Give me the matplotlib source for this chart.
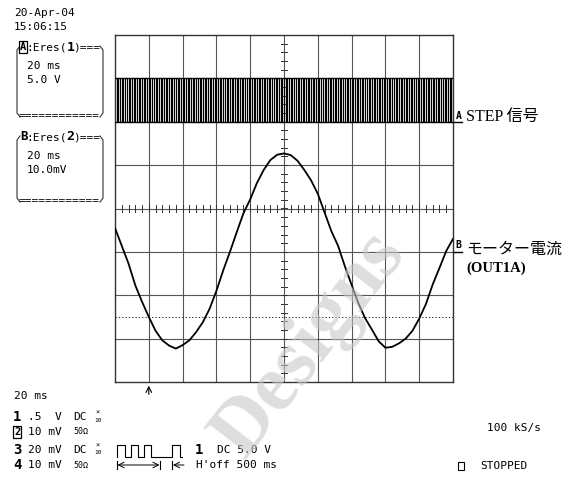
import numpy as np
import matplotlib
matplotlib.use('Agg')
import matplotlib.pyplot as plt

# ---- 數據 (讀自示波器畫面) ----
time_ms = list(range(0, 204, 4))  # 取樣時間 ms
motor_mv = [5.5, 1.4, -2.7, -7.7, -11.5, -15.0, -18.2, -20.4, -21.6, -22.3,
            -21.5, -20.4, -18.5, -16.2, -13.1, -9.0, -4.3, 0.0, 4.5, 8.9,
            12.1, 15.9, 18.9, 21.2, 22.4, 22.7, 22.3, 21.0, 18.9, 16.5,
            13.4, 9.1, 4.8, 1.4, -3.3, -7.6, -11.8, -15.3, -17.9, -20.6,
            -22.1, -21.9, -21.1, -20.0, -18.2, -15.4, -12.0, -7.5, -3.7, 0.2, 3.0]
step_period_ms = 2.0   # STEP 脈波週期
step_high_v = 5.0
ms_per_div = 20.0
a_v_per_div = 5.0
b_mv_per_div = 10.0
a_ground_div = 2.0
b_ground_div = -1.0
trig_level_div = -2.5
trig_pos_div = 1.0

ch_rows = [('1', '.5  V', 'DC', True), ('2', '10 mV', '50Ω', False),
           ('3', '20 mV', 'DC', True), ('4', '10 mV', '50Ω', False)]

W, H = 581, 478
mono = 'DejaVu Sans Mono'

fig = plt.figure(figsize=(W / 100, H / 100), dpi=100)
fig.patch.set_facecolor('white')
ax = fig.add_axes([115 / W, 1 - 382 / H, 338 / W, 347 / H])
ax.set_xlim(0, 10)
ax.set_ylim(-4, 4)
ax.set_xticks([])
ax.set_yticks([])
for s in ax.spines.values():
    s.set_color('#333333')
    s.set_linewidth(1.0)

# 格線
for i in range(1, 10):
    ax.axvline(i, color='#555555', lw=0.8, zorder=1)
for j in range(-3, 4):
    ax.axhline(j, color='#555555', lw=0.8, zorder=1)
# 中心刻度
for k in np.arange(-4, 4.01, 0.2):
    ax.plot([4.92, 5.08], [k, k], color='#333333', lw=0.7, zorder=1)
for k in np.arange(0, 10.01, 0.2):
    ax.plot([k, k], [-0.07, 0.07], color='#333333', lw=0.7, zorder=1)
# 觸發準位
ax.axhline(trig_level_div, color='black', lw=0.6, ls=(0, (1.5, 2.5)), zorder=1)

# STEP 信號
edges = np.arange(0, 200 + step_period_ms, step_period_ms / 2)
lev = np.where(np.arange(len(edges)) % 2 == 0, step_high_v, 0.0)
ax.step(edges / ms_per_div, lev / a_v_per_div + a_ground_div, where='post',
        color='black', lw=0.85, zorder=3)
ax.plot([0, 10], [a_ground_div, a_ground_div], color='black', lw=0.9, zorder=3)
ax.plot([0, 10], [a_ground_div + 1, a_ground_div + 1], color='black', lw=0.9, zorder=3)

# 馬達電流
ax.plot(np.array(time_ms) / ms_per_div, np.array(motor_mv) / b_mv_per_div + b_ground_div,
        color='black', lw=1.3, zorder=4)

# 觸發位置箭頭
ax.annotate('', xy=(trig_pos_div, -4.02), xytext=(trig_pos_div, -4.35),
            xycoords='data', arrowprops=dict(arrowstyle='->', lw=0.8, color='black'),
            annotation_clip=False)

# ---- 疊加層 (像素座標) ----
ov = fig.add_axes([0, 0, 1, 1])
ov.set_xlim(0, W)
ov.set_ylim(H, 0)
ov.axis('off')


def t(x, y, s, **kw):
    kw.setdefault('fontsize', 8)
    kw.setdefault('family', mono)
    ov.text(x, y, s, va='center', ha=kw.pop('ha', 'left'), **kw)


t(14, 13, '20-Apr-04')
t(14, 27, '15:06:15')

box = dict(boxstyle='square,pad=0.08', fc='white', ec='black', lw=0.9)
for (y0, y1, lab, num, l2, l3) in [(47, 116, 'A', '1', '20 ms', '5.0 V'),
                                   (137, 201, 'B', '2', '20 ms', '10.0mV')]:
    if lab == 'A':
        t(20, y0, lab, weight='bold', bbox=box, fontsize=7.5)
    else:
        t(20, y0, lab, weight='bold', fontsize=9)
    t(26.5, y0, ':Eres(')
    t(66.5, y0, num, weight='bold', fontsize=9.5)
    t(73.5, y0, ')===')
    t(27, y0 + 19, l2)
    t(27, y0 + 33, l3)
    t(19, y1, '============')
    for xe, d in [(17, 1), (103, -1)]:
        ov.plot([xe + 3 * d, xe, xe, xe + 3 * d], [y0 - 1, y0 + 3, y1 - 3, y1 + 1],
                color='#333333', lw=0.8)

t(14, 396, '20 ms')
row_y = [417, 432, 450, 465]
for (num, scl, cpl, x10), y in zip(ch_rows, row_y):
    if num == '2':
        t(14, y, num, weight='bold', bbox=box, fontsize=7.5)
    else:
        t(13, y, num, weight='bold', fontsize=10)
    t(28, y, scl)
    if cpl == 'DC':
        t(73, y, cpl)
        t(95, y - 4, '×', fontsize=5)
        t(94.5, y + 3, '10', fontsize=4.5)
    else:
        t(73, y, cpl, fontsize=6)

# 觸發圖示
px = [117, 117, 125, 125, 131, 131, 137.5, 137.5, 143.5, 143.5, 151, 151, 171.5, 171.5, 180, 180, 182]
py = [457, 445, 445, 457, 457, 445, 445, 457, 457, 445, 445, 457, 457, 445, 445, 457, 457]
ov.plot(px, py, color='black', lw=0.8)
ov.plot([117, 117], [461, 469], color='black', lw=0.8)
ov.plot([160, 160], [461, 469], color='black', lw=0.8)
ov.annotate('', xy=(117.5, 465), xytext=(159.5, 465),
            arrowprops=dict(arrowstyle='<->', lw=0.7, color='black', shrinkA=0, shrinkB=0))
ov.plot([172, 172], [461, 469], color='black', lw=0.8)
ov.annotate('', xy=(173, 465), xytext=(184, 465),
            arrowprops=dict(arrowstyle='->', lw=0.7, color='black', shrinkA=0, shrinkB=0))
t(195, 450, '1', weight='bold', fontsize=10)
t(217, 450, 'DC 5.0 V')
t(196, 465, "H'off 500 ms")

t(487, 428, '100 kS/s')
ov.add_patch(plt.Rectangle((458, 462), 6, 8, fill=False, ec='black', lw=0.8))
t(480, 466, 'STOPPED')

# 通道標記
t(455.5, 116, 'A', weight='bold', fontsize=7)
ov.plot([453, 462], [122, 122], color='black', lw=1.0)
t(455.5, 245, 'B', weight='bold', fontsize=7)
ov.plot([453, 462], [252, 252], color='black', lw=1.0)

fam = ['Liberation Serif', 'Noto Sans CJK JP']
t(466, 117, 'STEP 信号', family=fam, fontsize=11.5)
t(466, 250, 'モーター電流', family=fam, fontsize=11.5)
t(466, 268, '(OUT1A)', family=fam, fontsize=10.5, weight='bold')

# 浮水印
ov.text(310, 345, 'Designs', rotation=52, fontsize=58, family='Liberation Serif',
        weight='bold', color='#c8c8c8', alpha=0.6, ha='center', va='center', zorder=10)

fig.savefig('out.png', dpi=100)
